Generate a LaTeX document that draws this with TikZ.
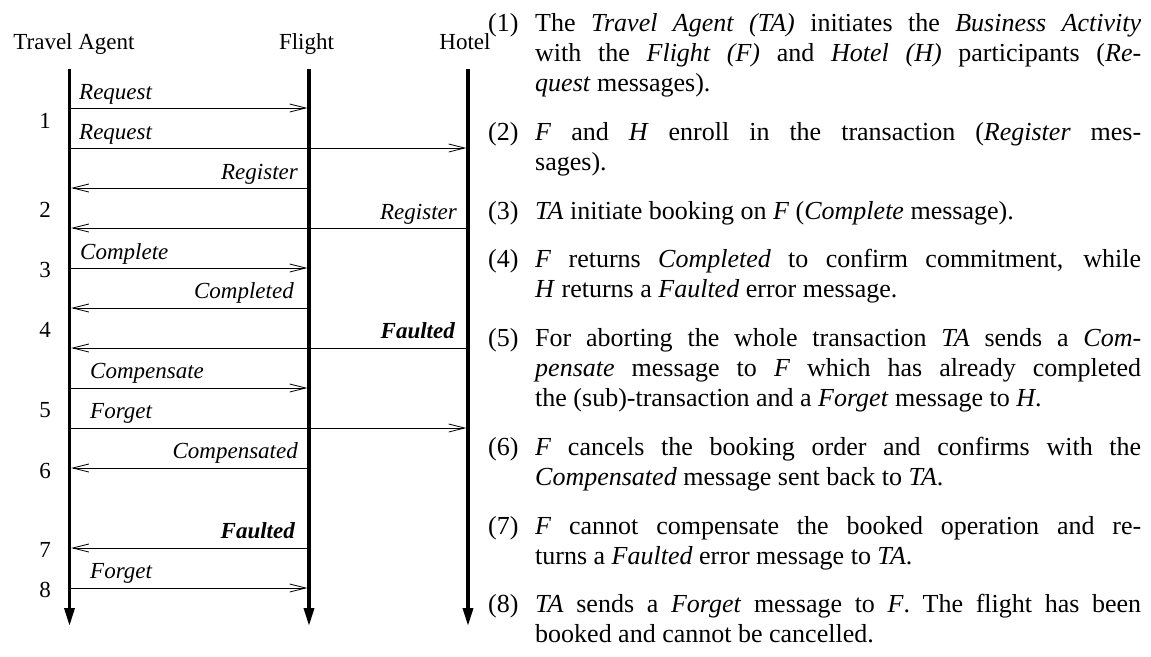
\documentclass[tikz,border=0pt]{standalone}
\usepackage{fontspec}
\setmainfont{Liberation Serif}
\usetikzlibrary{arrows.meta}
\begin{document}
\begin{tikzpicture}[x=1pt,y=-1pt,
  lifeline/.style={line width=3.4pt,-{Triangle[length=18pt,width=10pt]}},
  msg/.style={line width=0.8pt,-{Straight Barb[length=16pt,width=8pt,line width=0.8pt]}},
  hdr/.style={font=\fontsize{23}{27}\selectfont,inner sep=0pt,anchor=base},
  lblL/.style={font=\fontsize{23}{27}\selectfont\itshape,inner sep=0pt,anchor=base west},
  lblR/.style={font=\fontsize{23}{27}\selectfont\itshape,inner sep=0pt,anchor=base east},
  num/.style={font=\fontsize{23}{27}\selectfont,inner sep=0pt,anchor=base},
  itemnum/.style={inner sep=0pt,anchor=base west,font=\fontsize{26}{30}\selectfont},
  itembox/.style={inner sep=0pt,anchor=base west,text width=606pt,align=justify,
    font=\fontsize{26}{30}\selectfont}
]
\useasboundingbox (0,0) rectangle (1151,656);
% headers
\node[hdr] (hTA) at (74,49) {Travel Agent};
\node[hdr] (hF) at (306.5,49) {Flight};
\node[hdr] (hH) at (465,49) {Hotel};
% lifeline ends
\coordinate (taTop) at (69.5,69);  \coordinate (taEnd) at (69.5,626);
\coordinate (fTop) at (309,69);    \coordinate (fEnd) at (309,626);
\coordinate (hTop) at (468,69);    \coordinate (hEnd) at (468,626);
% messages
\foreach \n/\y/\xs/\xe in {
  1/108/71.2/307.3, 2/148/71.2/466.3, 3/188/307.3/71.2, 4/228/466.3/71.2,
  5/268/71.2/307.3, 6/308/307.3/71.2, 7/348/466.3/71.2, 8/388/71.2/307.3,
  9/428/71.2/466.3, 10/468/307.3/71.2, 11/548/307.3/71.2, 12/588/71.2/307.3}{
  \coordinate (m\n s) at (\xs,\y);
  \coordinate (m\n e) at (\xe,\y);
  \draw[msg] (m\n s) -- (m\n e);
}
% lifelines
\draw[lifeline] (taTop) -- (taEnd);
\draw[lifeline] (fTop) -- (fEnd);
\draw[lifeline] (hTop) -- (hEnd);
% message labels
\node[lblL] (l1) at (79,99) {Request};
\node[lblL] (l2) at (79,139) {Request};
\node[lblR] (l3) at (298,179) {Register};
\node[lblR] (l4) at (457,219) {Register};
\node[lblL] (l5) at (80,259) {Complete};
\node[lblR] (l6) at (294,298) {Completed};
\node[lblR] (l7) at (455,338) {\bfseries Faulted};
\node[lblL] (l8) at (90,378) {Compensate};
\node[lblL] (l9) at (90,418) {Forget};
\node[lblR] (l10) at (298,458) {Compensated};
\node[lblR] (l11) at (295,538) {\bfseries Faulted};
\node[lblL] (l12) at (90,578) {Forget};
% step numbers
\node[num] (n1) at (45,128) {1};
\node[num] (n2) at (45,217) {2};
\node[num] (n3) at (45,277) {3};
\node[num] (n4) at (45,337) {4};
\node[num] (n5) at (45,417) {5};
\node[num] (n6) at (45,478) {6};
\node[num] (n7) at (45,557) {7};
\node[num] (n8) at (45,597) {8};
% explanation
\foreach \k/\y in {1/31,2/140,3/219,4/267,5/346,6/455,7/534,8/612}{
  \node[itemnum] (k\k) at (488,\y) {(\k)};
}
\node[itembox] (t1) at (535,31) {The \textit{Travel Agent (TA)} initiates the \textit{Business Activity}\linebreak with the \textit{Flight (F)} and \textit{Hotel (H)} participants (\textit{Re-}\linebreak\textit{quest} messages).};
\node[itembox] (t2) at (535,140) {\textit{F} and \textit{H} enroll in the transaction (\textit{Register} mes-\linebreak sages).};
\node[itembox] (t3) at (535,219) {\textit{TA} initiate booking on \textit{F} (\textit{Complete} message).};
\node[itembox] (t4) at (535,267) {\textit{F} returns \textit{Completed} to confirm commitment, while\linebreak \textit{H} returns a \textit{Faulted} error message.};
\node[itembox] (t5) at (535,346) {For aborting the whole transaction \textit{TA} sends a \textit{Com-}\linebreak\textit{pensate} message to \textit{F} which has already completed\linebreak the (sub)-transaction and a \textit{Forget} message to \textit{H}.};
\node[itembox] (t6) at (535,455) {\textit{F} cancels the booking order and confirms with the\linebreak \textit{Compensated} message sent back to \textit{TA}.};
\node[itembox] (t7) at (535,534) {\textit{F} cannot compensate the booked operation and re-\linebreak turns a \textit{Faulted} error message to \textit{TA}.};
\node[itembox] (t8) at (535,612) {\textit{TA} sends a \textit{Forget} message to \textit{F}. The flight has been\linebreak booked and cannot be cancelled.};
\end{tikzpicture}
\end{document}
